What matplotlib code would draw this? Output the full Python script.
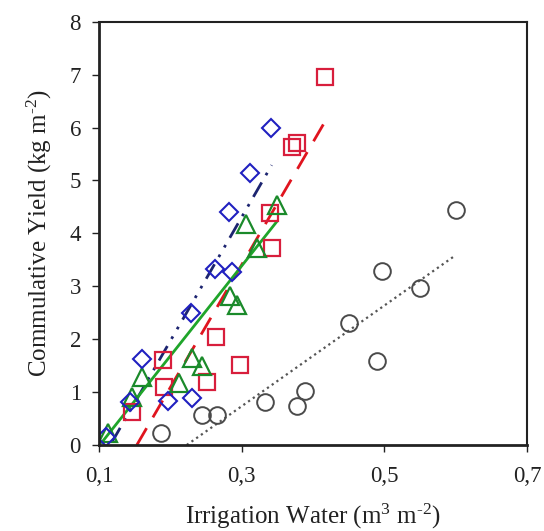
import numpy as np
import matplotlib
matplotlib.use("Agg")
import matplotlib.pyplot as plt

plt.rcParams['font.family'] = ['Liberation Serif', 'DejaVu Serif']
plt.rcParams['mathtext.fontset'] = 'custom'
plt.rcParams['mathtext.rm'] = 'Liberation Serif'
plt.rcParams['mathtext.it'] = 'Liberation Serif:italic'

# diamonds (blue)
dia_x = [0.110, 0.143, 0.160, 0.196, 0.231, 0.229, 0.262, 0.286, 0.282, 0.311, 0.341]
dia_y = [0.15, 0.81, 1.63, 0.83, 0.89, 2.50, 3.33, 3.27, 4.40, 5.14, 5.99]
# squares (red)
sq_x = [0.146, 0.190, 0.191, 0.251, 0.264, 0.297, 0.339, 0.343, 0.371, 0.377, 0.417]
sq_y = [0.62, 1.61, 1.10, 1.19, 2.04, 1.51, 4.39, 3.72, 5.63, 5.70, 6.96]
# triangles (green)
tri_x = [0.113, 0.146, 0.160, 0.212, 0.231, 0.245, 0.283, 0.293, 0.322, 0.306, 0.350]
tri_y = [0.22, 0.90, 1.28, 1.18, 1.65, 1.50, 2.82, 2.65, 3.73, 4.17, 4.54]
# circles (grey)
cir_x = [0.187, 0.245, 0.266, 0.332, 0.377, 0.388, 0.450, 0.489, 0.496, 0.550, 0.601]
cir_y = [0.22, 0.57, 0.57, 0.81, 0.74, 1.02, 2.31, 1.59, 3.29, 2.97, 4.44]

# fitted lines (end points)
fit_dia_x = [0.118, 0.342]
fit_dia_y = [0.05, 5.29]
fit_sq_x = [0.153, 0.417]
fit_sq_y = [0.0, 6.12]
fit_tri_x = [0.104, 0.349]
fit_tri_y = [0.05, 4.22]
fit_cir_x = [0.223, 0.598]
fit_cir_y = [0.0, 3.57]

xticks = [0.1, 0.3, 0.5, 0.7]
xtick_labels = ['0,1', '0,3', '0,5', '0,7']
yticks = [0, 1, 2, 3, 4, 5, 6, 7, 8]

fig = plt.figure(figsize=(5.44, 5.31), dpi=100)
ax = fig.add_axes([0.182, 0.162, 0.787, 0.797])

ax.plot(fit_cir_x, fit_cir_y, color='#555555', lw=1.6, ls=(0, (1, 1.6)))
ax.plot(fit_sq_x, fit_sq_y, color='#e0141e', lw=2, ls=(0, (7, 4.5)))
ax.plot(fit_dia_x, fit_dia_y, color='#1c2470', lw=2, ls=(0, (6, 3, 1, 3, 1, 3)))
ax.plot(fit_tri_x, fit_tri_y, color='#1fa52a', lw=2)

ms = 12
ax.plot(cir_x, cir_y, 'o', ms=ms, mfc='none', mec='#4a4a4a', mew=1.4)
ax.plot(sq_x, sq_y, 's', ms=ms, mfc='none', mec='#d81e3c', mew=1.6)
ax.plot(tri_x, tri_y, '^', ms=ms + 1, mfc='none', mec='#1a8a2a', mew=1.6)
ax.plot(dia_x, dia_y, 'D', ms=ms - 3, mfc='none', mec='#2020c0', mew=1.5)

ax.set_xlim(0.1, 0.7)
ax.set_ylim(0, 8)
ax.set_xticks(xticks)
ax.set_xticklabels(xtick_labels)
ax.set_yticks(yticks)
ax.tick_params(direction='out', length=5, width=1, labelsize=16.5, colors='#222222')
ax.tick_params(axis='x', pad=10)
ax.tick_params(axis='y', pad=8)

for s in ['top', 'right']:
    ax.spines[s].set_linewidth(1.5)
for s in ['left', 'bottom']:
    ax.spines[s].set_linewidth(2)
for s in ax.spines.values():
    s.set_color('#222222')

ax.set_xlabel(r'Irrigation Water (m$^{3}$ m$^{\text{-}2}$)', fontsize=18, color='#222222', labelpad=11)
ax.set_ylabel(r'Commulative Yield (kg m$^{\text{-}2}$)', fontsize=18, color='#222222', labelpad=11)

fig.savefig('out.png', dpi=100)
